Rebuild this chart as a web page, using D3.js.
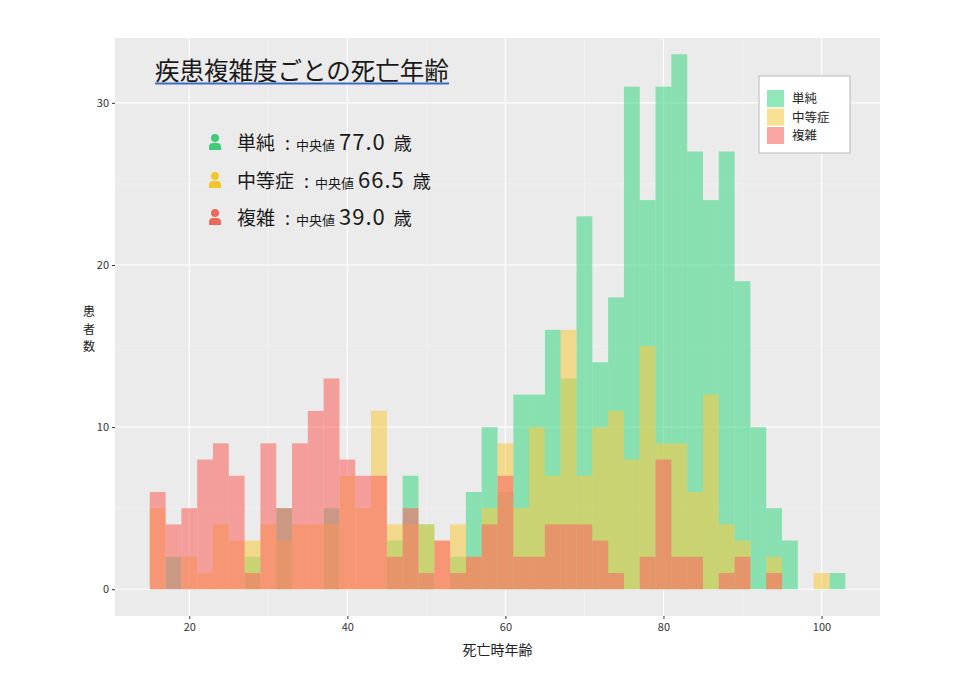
<!DOCTYPE html>
<html>
<head>
<meta charset="utf-8">
<script src="https://cdn.jsdelivr.net/npm/d3@7"></script>
<style>
  body { margin: 0; background: #fff; }
  text { font-family: "Noto Sans CJK JP", "Noto Sans", sans-serif; }
</style>
</head>
<body>
<svg id="chart" width="960" height="680"></svg>
<script>
// left edge of each 2-year age bin
const ageBins = [15, 17, 19, 21, 23, 25, 27, 29, 31, 33, 35, 37, 39, 41, 43, 45, 47, 49, 51, 53, 55, 57,
  59, 61, 63, 65, 67, 69, 71, 73, 75, 77, 79, 81, 83, 85, 87, 89, 91, 93, 95, 97, 99, 101];
const binWidth = 2;

const simpleCounts = [0, 2, 0, 0, 0, 0, 2, 0, 5, 0, 0, 5, 0, 0, 0, 3, 7, 4, 0, 2, 6, 10,
  6, 12, 12, 16, 13, 23, 14, 18, 31, 24, 31, 33, 27, 24, 27, 19, 10, 5, 3, 0, 0, 1];
const moderateCounts = [5, 0, 2, 1, 4, 3, 3, 4, 3, 4, 4, 4, 7, 5, 11, 4, 4, 4, 3, 4, 2, 5,
  9, 5, 10, 7, 16, 7, 10, 11, 8, 15, 9, 9, 6, 12, 4, 3, 0, 2, 0, 0, 1, 0];
const complexCounts = [6, 4, 5, 8, 9, 7, 1, 9, 5, 9, 11, 13, 8, 7, 7, 2, 5, 1, 3, 1, 2, 4,
  7, 2, 2, 4, 4, 4, 3, 1, 0, 2, 8, 2, 2, 0, 1, 2, 0, 1, 0, 0, 0, 0];

const groups = ["単純", "中等症", "複雑"];
const medians = ["77.0", "66.5", "39.0"];
const xTicks = [20, 40, 60, 80, 100];
const yTicks = [0, 10, 20, 30];

const title = "疾患複雑度ごとの死亡年齢";
const xTitle = "死亡時年齢";
const yTitle = "患者数";

const fills = ["#46d787", "#f7cb49", "#f86a66"];
const iconFills = ["#3fcb7a", "#f3c52d", "#ec6a5c"];
const series = [simpleCounts, moderateCounts, complexCounts];

const svg = d3.select("#chart");
const panel = { left: 115, right: 880, top: 38, bottom: 616 };

const x = d3.scaleLinear().domain([10.6, 107.4]).range([panel.left, panel.right]);
const y = d3.scaleLinear().domain([-1.65, 34]).range([panel.bottom, panel.top]);

svg.append("rect")
  .attr("x", panel.left).attr("y", panel.top)
  .attr("width", panel.right - panel.left)
  .attr("height", panel.bottom - panel.top)
  .attr("fill", "#ebebeb");

// grid
const xMinor = [30, 50, 70, 90];
const yMinor = [5, 15, 25];
const grid = svg.append("g");
grid.selectAll(".xminor").data(xMinor).enter().append("line")
  .attr("x1", (d) => x(d)).attr("x2", (d) => x(d))
  .attr("y1", panel.top).attr("y2", panel.bottom)
  .attr("stroke", "#f4f4f4").attr("stroke-width", 0.6);
grid.selectAll(".yminor").data(yMinor).enter().append("line")
  .attr("x1", panel.left).attr("x2", panel.right)
  .attr("y1", (d) => y(d)).attr("y2", (d) => y(d))
  .attr("stroke", "#f4f4f4").attr("stroke-width", 0.6);
grid.selectAll(".xmajor").data(xTicks).enter().append("line")
  .attr("x1", (d) => x(d)).attr("x2", (d) => x(d))
  .attr("y1", panel.top).attr("y2", panel.bottom)
  .attr("stroke", "#fff").attr("stroke-width", 1.2);
grid.selectAll(".ymajor").data(yTicks).enter().append("line")
  .attr("x1", panel.left).attr("x2", panel.right)
  .attr("y1", (d) => y(d)).attr("y2", (d) => y(d))
  .attr("stroke", "#fff").attr("stroke-width", 1.2);

// bars, drawn in group order so later groups sit on top
series.forEach((counts, gi) => {
  svg.append("g")
    .selectAll("rect")
    .data(ageBins.map((a, i) => [a, counts[i]]).filter((d) => d[1] > 0))
    .enter()
    .append("rect")
    .attr("x", (d) => x(d[0]))
    .attr("width", (d) => x(d[0] + binWidth) - x(d[0]))
    .attr("y", (d) => y(d[1]))
    .attr("height", (d) => y(0) - y(d[1]))
    .attr("fill", fills[gi])
    .attr("fill-opacity", 0.6);
});

// axes
const xAxis = svg.append("g")
  .attr("transform", `translate(0,${panel.bottom})`)
  .call(d3.axisBottom(x).tickValues(xTicks).tickSize(3).tickPadding(4));
const yAxis = svg.append("g")
  .attr("transform", `translate(${panel.left},0)`)
  .call(d3.axisLeft(y).tickValues(yTicks).tickSize(3).tickPadding(3));
[xAxis, yAxis].forEach((g) => {
  g.select(".domain").remove();
  g.selectAll(".tick line").attr("stroke", "#333");
  g.selectAll(".tick text").attr("fill", "#333").style("font-size", "11px");
});

svg.append("text")
  .attr("x", (panel.left + panel.right) / 2).attr("y", 655)
  .attr("text-anchor", "middle")
  .style("font-size", "14px").attr("fill", "#222")
  .text(xTitle);

// vertical y title, one character per line
svg.append("text")
  .attr("x", 89).attr("y", 316)
  .attr("text-anchor", "middle")
  .style("font-size", "12px").attr("fill", "#222")
  .selectAll("tspan")
  .data(yTitle.split(""))
  .enter().append("tspan")
  .attr("x", 89).attr("dy", (d, i) => (i === 0 ? 0 : 17.5))
  .text((d) => d);

// title
svg.append("text")
  .attr("x", 155).attr("y", 80)
  .style("font-size", "24.5px").attr("fill", "#1a1a1a")
  .text(title);
svg.append("line")
  .attr("x1", 155).attr("x2", 449)
  .attr("y1", 83.5).attr("y2", 83.5)
  .attr("stroke", "#3a6cc6").attr("stroke-width", 2);

// median notes
const noteY = [150, 188, 225];
groups.forEach((g, i) => {
  const cy = noteY[i];
  const icon = svg.append("g").attr("fill", iconFills[i]);
  icon.append("circle").attr("cx", 215).attr("cy", cy - 12).attr("r", 4);
  icon.append("path")
    .attr("d", `M209,${cy} L209,${cy - 3} Q209,${cy - 7} 213,${cy - 7} L217,${cy - 7} Q221,${cy - 7} 221,${cy - 3} L221,${cy} Z`);

  const t = svg.append("text").attr("x", 237).attr("y", cy).attr("fill", "#1a1a1a");
  t.append("tspan").style("font-size", "19px").text(g);
  t.append("tspan").style("font-size", "18px").attr("dx", 10).text(":");
  t.append("tspan").style("font-size", "13px").attr("dx", 6).text("中央値");
  t.append("tspan").style("font-size", "22px").attr("dx", 4)
    .style("letter-spacing", "1px").text(medians[i]);
  t.append("tspan").style("font-size", "18px").attr("dx", 8).text("歳");
});

// legend
const legend = svg.append("g").attr("transform", "translate(759,76)");
legend.append("rect")
  .attr("width", 91).attr("height", 77)
  .attr("fill", "#fff").attr("stroke", "#b8b8b8").attr("stroke-width", 1);
groups.forEach((g, i) => {
  legend.append("rect")
    .attr("x", 8).attr("y", 14 + i * 18.5)
    .attr("width", 17).attr("height", 17)
    .attr("fill", fills[i]).attr("fill-opacity", 0.6);
  legend.append("text")
    .attr("x", 33).attr("y", 27 + i * 18.5)
    .style("font-size", "12.5px").attr("fill", "#222")
    .text(g);
});
</script>
</body>
</html>
